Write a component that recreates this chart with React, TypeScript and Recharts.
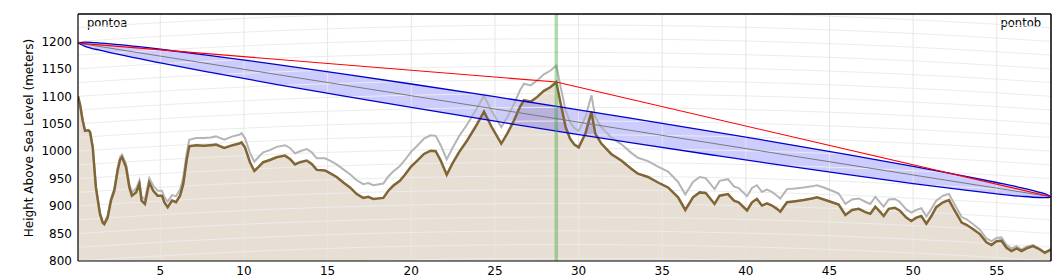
import React from 'react';
import { ComposedChart, Area, Line, XAxis, YAxis, ReferenceLine, Customized } from 'recharts';

// Terrain profile (km along path, metres)
const distanceKm = [0.08, 0.2, 0.36, 0.5, 0.7, 0.8, 0.96, 1.15, 1.39, 1.55, 1.65, 1.85, 2.05, 2.25, 2.45, 2.6, 2.71, 2.95, 3.15, 3.3, 3.55, 3.75, 3.88, 4.08, 4.34, 4.58, 4.84, 5.1, 5.24, 5.44, 5.7, 5.94, 6.18, 6.37, 6.57, 6.73, 7.13, 7.6, 8.0, 8.33, 8.82, 9.32, 9.72, 9.85, 10.06, 10.36, 10.62, 10.86, 11.15, 11.55, 11.95, 12.45, 12.75, 13.05, 13.35, 13.75, 14.05, 14.35, 14.84, 15.14, 15.54, 15.94, 16.34, 16.74, 17.13, 17.43, 17.73, 18.33, 18.63, 18.92, 19.32, 19.62, 19.96, 20.36, 20.76, 21.16, 21.46, 21.76, 22.12, 22.45, 22.85, 23.35, 23.85, 24.35, 24.79, 25.38, 25.74, 26.14, 26.5, 26.74, 27.14, 27.53, 27.93, 28.33, 28.67, 28.93, 29.23, 29.49, 29.75, 30.01, 30.41, 30.77, 31.0, 31.36, 31.95, 32.55, 33.15, 33.55, 34.15, 34.75, 35.35, 35.95, 36.38, 36.84, 37.24, 37.6, 38.13, 38.43, 38.93, 39.29, 39.57, 40.07, 40.37, 40.66, 40.96, 41.26, 41.56, 41.86, 42.06, 42.46, 42.96, 43.46, 43.96, 44.25, 44.66, 45.15, 45.55, 45.95, 46.35, 46.75, 47.14, 47.44, 47.74, 48.04, 48.24, 48.54, 48.9, 49.19, 49.59, 49.89, 50.19, 50.49, 50.79, 51.09, 51.38, 51.78, 52.14, 52.48, 52.9, 53.19, 53.59, 53.99, 54.38, 54.68, 54.98, 55.28, 55.58, 55.88, 56.18, 56.48, 56.78, 57.17, 57.57, 57.87, 58.24];
const terrainM = [1100, 1085, 1056, 1037, 1038, 1035, 1007, 934, 886, 870, 867, 879, 910, 928, 965, 985, 989, 971, 934, 919, 925, 940, 910, 904, 943, 928, 919, 919, 907, 898, 910, 907, 919, 940, 983, 1009, 1011, 1010, 1011, 1012, 1006, 1011, 1014, 1016, 1007, 980, 964, 971, 980, 984, 989, 992, 986, 976, 980, 983, 977, 966, 965, 960, 953, 943, 934, 922, 915, 917, 913, 915, 928, 937, 946, 957, 971, 983, 995, 1001, 1000, 983, 957, 977, 998, 1020, 1045, 1072, 1045, 1014, 1032, 1056, 1081, 1093, 1090, 1099, 1110, 1117, 1126, 1087, 1044, 1023, 1012, 1007, 1032, 1072, 1032, 1014, 995, 983, 968, 959, 953, 943, 934, 916, 893, 916, 925, 924, 904, 919, 922, 910, 907, 892, 907, 913, 901, 905, 901, 895, 890, 907, 909, 911, 914, 916, 912, 907, 903, 884, 893, 895, 889, 886, 899, 889, 882, 895, 897, 892, 879, 873, 879, 882, 868, 882, 898, 907, 911, 892, 870, 866, 858, 849, 834, 829, 836, 837, 824, 818, 823, 818, 823, 827, 821, 815, 821];
const clutterM = [1100, 1085, 1057, 1038, 1039, 1036, 1009, 936, 889, 873, 870, 882, 914, 932, 970, 990, 994, 977, 940, 925, 932, 947, 917, 912, 951, 937, 928, 928, 917, 908, 920, 918, 930, 952, 995, 1021, 1024, 1024, 1025, 1027, 1021, 1027, 1030, 1033, 1024, 997, 981, 989, 998, 1002, 1008, 1011, 1006, 996, 1000, 1004, 998, 987, 987, 983, 976, 967, 958, 947, 940, 942, 938, 941, 954, 963, 973, 984, 998, 1010, 1023, 1029, 1028, 1011, 985, 1005, 1027, 1049, 1074, 1101, 1074, 1044, 1062, 1086, 1111, 1123, 1120, 1129, 1140, 1147, 1156, 1117, 1074, 1053, 1042, 1037, 1062, 1102, 1062, 1044, 1025, 1013, 997, 988, 982, 972, 963, 944, 921, 944, 953, 951, 931, 946, 949, 936, 933, 918, 933, 938, 926, 930, 926, 919, 914, 931, 932, 934, 936, 938, 934, 928, 923, 904, 912, 914, 908, 904, 917, 906, 899, 912, 913, 908, 894, 888, 893, 896, 881, 895, 910, 919, 922, 903, 880, 876, 867, 857, 841, 836, 842, 843, 829, 823, 827, 821, 826, 829, 822, 816, 821];

// Line of sight and first Fresnel zone
const fresnelKm = [0.08, 0.5, 1.5, 3, 5, 8, 12, 16, 20, 25, 29.16, 33, 38, 42, 46, 50, 53, 55, 56.5, 57.5, 58, 58.24];
const losM = [1197, 1195, 1190.2, 1182.9, 1173.3, 1158.9, 1139.6, 1120.4, 1101.1, 1077.0, 1057.0, 1038.5, 1014.5, 995.2, 976.0, 956.7, 942.3, 932.7, 925.5, 920.7, 918.3, 917];
const fresnelUpperM = [1197, 1198.8, 1197.1, 1192.7, 1185.8, 1174.3, 1157.8, 1140.5, 1122.5, 1099.3, 1079.5, 1060.8, 1035.9, 1015.4, 994.3, 972.4, 955.2, 943.0, 933.2, 925.7, 921.2, 917];
const fresnelLowerM = [1197, 1191.2, 1183.3, 1173.1, 1160.8, 1143.5, 1121.4, 1100.3, 1079.7, 1054.7, 1034.5, 1016.2, 993.1, 975.0, 957.7, 941.0, 929.4, 922.4, 917.8, 915.7, 915.4, 917];

// Diffraction path over the obstacle
const pathKm = [0.08, 28.67, 58.24];
const pathM = [1197, 1126, 917];
const obstacleKm = 28.67;

// Earth-curvature grid (bulge)
const gridKm = [0.08, 3, 6, 9, 12, 15, 18, 21, 24, 27, 29.16, 31, 34, 37, 40, 43, 46, 49, 52, 55, 58.24];
const bulgeM = [0, 5.7, 11.0, 15.6, 19.6, 22.9, 25.6, 27.6, 29.1, 29.8, 30.0, 29.9, 29.2, 27.8, 25.8, 23.2, 19.9, 16.0, 11.5, 6.3, 0];
const gridLevels = [775, 800, 825, 850, 875, 900, 925, 950, 975, 1000, 1025, 1050, 1075, 1100, 1125, 1150, 1175, 1200, 1225];

const xTicks = [5, 10, 15, 20, 25, 30, 35, 40, 45, 50, 55];
const yTicks = [800, 825, 850, 875, 900, 925, 950, 975, 1000, 1025, 1050, 1075, 1100, 1125, 1150, 1175, 1200];
const xDomain = [0.08, 58.24];
const yDomain = [800, 1250];

const terrainData = distanceKm.map((km, i) => ({ km, terrain: terrainM[i], clutter: clutterM[i] }));
const fresnelData = fresnelKm.map((km, i) => ({
  km,
  los: losM[i],
  upper: fresnelUpperM[i],
  lower: fresnelLowerM[i],
  band: [fresnelLowerM[i], fresnelUpperM[i]],
}));
const pathData = pathKm.map((km, i) => ({ km, path: pathM[i] }));
const gridData = gridLevels.map((lvl) => gridKm.map((km, i) => ({ km, g: lvl + bulgeM[i] })));

const FONT = 'DejaVu Sans';

const Labels = () => (
  <g fontFamily={FONT} fill="#000">
    <text x={87} y={27} fontSize={11.5}>pontoa</text>
    <text x={1041} y={27} fontSize={11.5} textAnchor="end">pontob</text>
    <text
      transform="translate(29,138) rotate(-90)"
      textAnchor="middle"
      dominantBaseline="central"
      fontSize={12}
    >
      Height Above Sea Level (meters)
    </text>
  </g>
);

export default function App() {
  return (
    <div style={{ position: 'absolute', left: 0, top: 0, width: 1059, height: 279, background: '#fff' }}>
      <ComposedChart
        width={1059}
        height={279}
        margin={{ top: 14, right: 8, bottom: 0, left: 0 }}
        style={{ fontFamily: FONT }}
      >
        <XAxis
          type="number"
          dataKey="km"
          domain={xDomain}
          allowDataOverflow
          ticks={xTicks}
          height={18}
          tickLine={false}
          tickSize={0}
          tickMargin={5}
          axisLine={{ stroke: '#000', strokeWidth: 1.2 }}
          tick={{ fontSize: 12, fill: '#000', fontFamily: FONT }}
        />
        <YAxis
          type="number"
          domain={yDomain}
          allowDataOverflow
          ticks={yTicks}
          width={78}
          tickLine={false}
          tickSize={0}
          tickMargin={6}
          axisLine={{ stroke: '#000', strokeWidth: 1.2 }}
          tick={{ fontSize: 12, fill: '#000', fontFamily: FONT }}
        />
        <YAxis
          yAxisId="lt"
          type="number"
          domain={yDomain}
          allowDataOverflow
          ticks={yTicks}
          mirror
          width={0}
          tickSize={4}
          tickLine={{ stroke: '#000' }}
          axisLine={false}
          tickFormatter={() => ''}
        />
        <YAxis
          yAxisId="rt"
          orientation="right"
          type="number"
          domain={yDomain}
          allowDataOverflow
          ticks={[...yTicks, 1225]}
          mirror
          width={0}
          tickSize={4}
          tickLine={{ stroke: '#000' }}
          axisLine={false}
          tickFormatter={() => ''}
        />

        <Area
          data={terrainData}
          dataKey="terrain"
          type="linear"
          baseValue={800}
          fill="#e8dfd4"
          fillOpacity={1}
          stroke="none"
          isAnimationActive={false}
        />

        {gridData.map((d, i) => (
          <Line
            key={`g${i}`}
            data={d}
            dataKey="g"
            type="monotone"
            stroke="#ececec"
            strokeWidth={1}
            dot={false}
            activeDot={false}
            isAnimationActive={false}
          />
        ))}
        {xTicks.map((t) => (
          <ReferenceLine key={`v${t}`} x={t} stroke="#e6e6e6" strokeWidth={1} />
        ))}

        <Area
          data={fresnelData}
          dataKey="band"
          type="monotone"
          fill="#0000ff"
          fillOpacity={0.2}
          stroke="none"
          isAnimationActive={false}
        />

        <Line data={terrainData} dataKey="clutter" type="linear" stroke="#b5b5b5" strokeWidth={2} dot={false} activeDot={false} isAnimationActive={false} />
        <Line data={terrainData} dataKey="terrain" type="linear" stroke="#806535" strokeWidth={2.5} dot={false} activeDot={false} isAnimationActive={false} />

        <Line data={fresnelData} dataKey="los" type="linear" stroke="#7a7a7a" strokeWidth={1} dot={false} activeDot={false} isAnimationActive={false} />
        <Line data={fresnelData} dataKey="upper" type="monotone" stroke="#0000d0" strokeWidth={1.3} dot={false} activeDot={false} isAnimationActive={false} />
        <Line data={fresnelData} dataKey="lower" type="monotone" stroke="#0000d0" strokeWidth={1.3} dot={false} activeDot={false} isAnimationActive={false} />
        <Line data={pathData} dataKey="path" type="linear" stroke="#ff0000" strokeWidth={1.1} dot={false} activeDot={false} isAnimationActive={false} />

        <ReferenceLine x={obstacleKm} stroke="#2ca02c" strokeOpacity={0.38} strokeWidth={3.5} />

        <ReferenceLine y={yDomain[1]} stroke="#000" strokeWidth={1.5} />
        <ReferenceLine x={xDomain[1]} stroke="#000" strokeWidth={1.5} />

        <Customized component={Labels} />
      </ComposedChart>
    </div>
  );
}
